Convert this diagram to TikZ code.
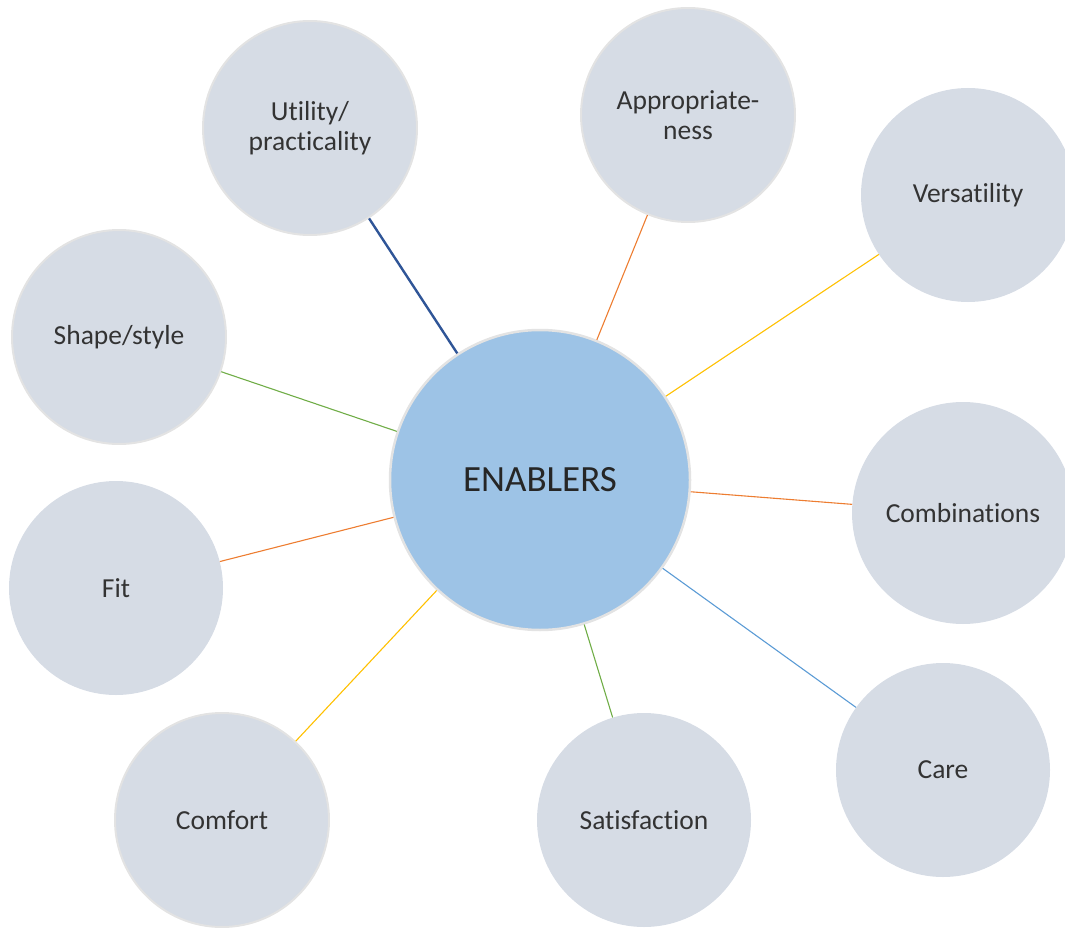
\documentclass[tikz,border=0pt]{standalone}
\usepackage{fontspec}
\setmainfont{Carlito}[Ligatures={NoCommon}]
\definecolor{bubble}{HTML}{D6DCE5}
\definecolor{hub}{HTML}{9DC3E6}
\definecolor{rim}{HTML}{E3E3E3}
\definecolor{dblue}{HTML}{2F5597}
\definecolor{orng}{HTML}{ED7D31}
\definecolor{gold}{HTML}{FFC000}
\definecolor{grn}{HTML}{70AD47}
\definecolor{lblue}{HTML}{5B9BD5}
\tikzset{
  bub/.style={circle, fill=bubble, inner sep=0pt, minimum size=214pt, align=center, font=\fontsize{27.5}{30}\selectfont, text=black!80},
  rimmed/.style={draw=rim, line width=2pt},
  hubnode/.style={circle, fill=hub, draw=rim, line width=2.5pt, inner sep=0pt, minimum size=300pt, font=\fontsize{37}{44}\selectfont, text=black!85},
  spoke/.style={line width=1.1pt}
}
\begin{document}
\begin{tikzpicture}[x=1pt,y=-1pt]
\useasboundingbox (0,0) rectangle (1065,928);
\clip (0,0) rectangle (1065,928);
\node[hubnode] (c) at (540,480) {ENABLERS};
\node[bub, rimmed] (u) at (310,128) {Utility/\\practicality};
\node[bub, rimmed] (a) at (688,115) {Appropriate-\\ness};
\node[bub] (v) at (968,195) {Versatility};
\node[bub, rimmed] (s) at (119,337) {Shape/style};
\node[bub, minimum size=222pt] (cb) at (963,513) {Combinations};
\node[bub] (f) at (116,588) {Fit};
\node[bub] (ca) at (943,770) {Care};
\node[bub, rimmed] (co) at (222,820) {Comfort};
\node[bub] (sa) at (644,820) {Satisfaction};
\draw[spoke, dblue, line width=2.4pt] (c) -- (u);
\draw[spoke, orng] (c) -- (a);
\draw[spoke, gold] (c) -- (v);
\draw[spoke, grn] (c) -- (s);
\draw[spoke, orng] (c) -- (cb);
\draw[spoke, orng] (c) -- (f);
\draw[spoke, lblue] (c) -- (ca);
\draw[spoke, gold] (c) -- (co);
\draw[spoke, grn] (c) -- (sa);
\end{tikzpicture}
\end{document}
